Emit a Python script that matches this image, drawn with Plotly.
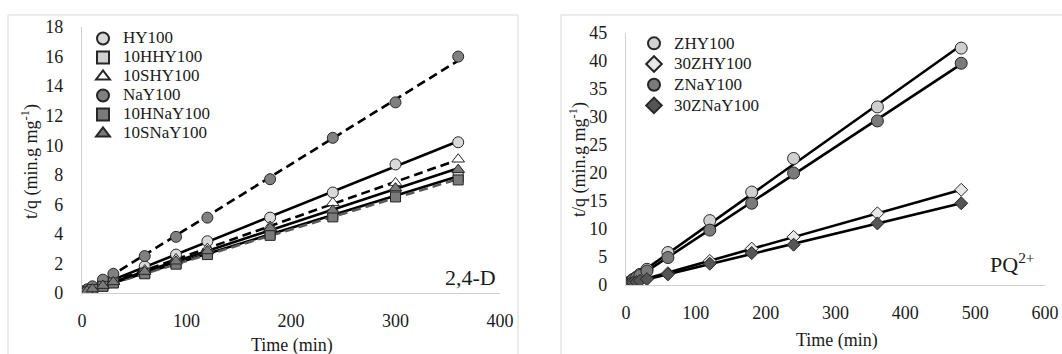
import numpy as np
import plotly.graph_objects as go

# ---- 2,4-D adsorption, pseudo-second-order plot (t/q vs t) ----
time_24d = [2, 5, 10, 20, 30, 60, 90, 120, 180, 240, 300, 360]
hy100 = [0.08, 0.17, 0.32, 0.62, 0.95, 1.8, 2.6, 3.5, 5.1, 6.8, 8.7, 10.2]
h10_hy100 = [0.06, 0.13, 0.25, 0.47, 0.70, 1.35, 2.0, 2.65, 4.0, 5.3, 6.6, 7.85]
s10_hy100 = [0.07, 0.15, 0.28, 0.55, 0.80, 1.55, 2.3, 3.0, 4.5, 6.1, 7.45, 9.05]
nay100 = [0.10, 0.25, 0.45, 0.9, 1.3, 2.5, 3.8, 5.1, 7.7, 10.5, 12.9, 16.0]
h10_nay100 = [0.06, 0.12, 0.24, 0.45, 0.68, 1.3, 1.95, 2.6, 3.9, 5.15, 6.5, 7.65]
s10_nay100 = [0.07, 0.14, 0.27, 0.50, 0.75, 1.45, 2.15, 2.85, 4.4, 5.6, 7.1, 8.35]

# ---- PQ2+ adsorption ----
time_pq = [2, 5, 10, 15, 20, 30, 60, 120, 180, 240, 360, 480]
zhy100 = [0.25, 0.5, 1.0, 1.4, 1.9, 2.8, 5.8, 11.5, 16.6, 22.6, 31.8, 42.3]
z30_hy100 = [0.1, 0.25, 0.45, 0.65, 0.85, 1.2, 2.1, 4.3, 6.5, 8.6, 12.8, 17.0]
znay100 = [0.2, 0.45, 0.9, 1.3, 1.7, 2.5, 4.9, 9.8, 14.6, 20.0, 29.3, 39.6]
z30_nay100 = [0.1, 0.2, 0.4, 0.55, 0.75, 1.05, 1.9, 3.8, 5.7, 7.2, 11.0, 14.6]

x_ticks_24d = [0, 100, 200, 300, 400]
y_ticks_24d = list(range(0, 19, 2))
x_ticks_pq = [0, 100, 200, 300, 400, 500, 600]
y_ticks_pq = list(range(0, 46, 5))

W, H = 1062, 354
FONT = "Liberation Serif"
INK = "#1a1a1a"
EDGE = "#262626"
AXIS = "#d0d0d0"

left_series = [
    ("HY100", hy100, "circle", "#d9d9d9", 11, "solid", "#000000"),
    ("10HHY100", h10_hy100, "square", "#d0d0d0", 10, "solid", "#000000"),
    ("10SHY100", s10_hy100, "triangle-up", "#ffffff", 11, "9px,5px", "#000000"),
    ("NaY100", nay100, "circle", "#808080", 11, "9px,5px", "#000000"),
    ("10HNaY100", h10_nay100, "square", "#7a7a7a", 10, "9px,5px", "#5a5a5a"),
    ("10SNaY100", s10_nay100, "triangle-up", "#7a7a7a", 11, "solid", "#000000"),
]
right_series = [
    ("ZHY100", zhy100, "circle", "#d0d0d0", 12),
    ("30ZHY100", z30_hy100, "diamond", "#e8e8e8", 10),
    ("ZNaY100", znay100, "circle", "#7a7a7a", 12),
    ("30ZNaY100", z30_nay100, "diamond", "#555555", 10),
]


def entry(label):
    # legend rows are kept compact while the label itself stays full size
    return f'<span style="font-size:17px">{label}</span>'


fig = go.Figure()


def trend(x, y):
    # least-squares straight line over the measured time span
    k, b = np.polyfit(x, y, 1)
    xs = np.array([min(x), max(x)])
    return xs, k * xs + b


for name, ys, sym, fill, size, dash, lc in left_series:
    xs, yl = trend(time_24d, ys)
    fig.add_trace(go.Scatter(x=xs, y=yl, mode="lines", showlegend=False,
                             line=dict(color=lc, width=2.6, dash=dash),
                             xaxis="x", yaxis="y", hoverinfo="skip"))
for name, ys, sym, fill, size, dash, lc in left_series:
    fig.add_trace(go.Scatter(x=time_24d, y=ys, mode="markers", name=entry(name),
                             marker=dict(symbol=sym, size=size, color=fill,
                                         line=dict(color=EDGE, width=1)),
                             xaxis="x", yaxis="y", legend="legend"))

for name, ys, sym, fill, size in right_series:
    xs, yl = trend(time_pq, ys)
    fig.add_trace(go.Scatter(x=xs, y=yl, mode="lines", showlegend=False,
                             line=dict(color="#000000", width=2.6),
                             xaxis="x2", yaxis="y2", hoverinfo="skip"))
for name, ys, sym, fill, size in right_series:
    fig.add_trace(go.Scatter(x=time_pq, y=ys, mode="markers", name=entry(name),
                             marker=dict(symbol=sym, size=size, color=fill,
                                         line=dict(color=EDGE, width=1)),
                             xaxis="x2", yaxis="y2", legend="legend2"))

tick_font = dict(family=FONT, size=18, color=INK)


def px_x(p):
    return p / W


def px_y(p):
    return (H - p) / H


axis_common = dict(showgrid=False, zeroline=False, showline=True, linecolor=AXIS,
                   linewidth=1.3, ticks="", tickfont=tick_font, automargin=False,
                   fixedrange=True)

fig.update_layout(
    width=W, height=H,
    margin=dict(l=0, r=0, t=0, b=0),
    paper_bgcolor="white", plot_bgcolor="white",
    font=dict(family=FONT, color=INK),
    xaxis=dict(domain=[px_x(82), px_x(500)], range=[0, 400], tickvals=x_ticks_24d,
               anchor="y", ticklabelstandoff=11, **axis_common),
    yaxis=dict(domain=[px_y(293), px_y(27)], range=[0, 18], tickvals=y_ticks_24d,
               anchor="x", ticklabelstandoff=14, **axis_common),
    xaxis2=dict(domain=[px_x(626), px_x(1045)], range=[0, 600], tickvals=x_ticks_pq,
                anchor="y2", ticklabelstandoff=11, **axis_common),
    yaxis2=dict(domain=[px_y(285), px_y(33)], range=[0, 45], tickvals=y_ticks_pq,
                anchor="x2", ticklabelstandoff=14, **axis_common),
    legend=dict(x=px_x(83), y=px_y(24), xanchor="left", yanchor="top",
                bgcolor="rgba(0,0,0,0)", font=dict(family=FONT, size=11.8, color=INK),
                itemsizing="constant", tracegroupgap=0),
    legend2=dict(x=px_x(634), y=px_y(28), xanchor="left", yanchor="top",
                 bgcolor="rgba(0,0,0,0)", font=dict(family=FONT, size=13.6, color=INK),
                 itemsizing="constant", tracegroupgap=0),
    showlegend=True,
)

# chart-area frames
fig.add_shape(type="rect", xref="paper", yref="paper",
              x0=px_x(8), x1=px_x(518), y0=px_y(360), y1=px_y(15),
              line=dict(color="#d9d9d9", width=1), fillcolor="rgba(0,0,0,0)", layer="below")
fig.add_shape(type="rect", xref="paper", yref="paper",
              x0=px_x(561), x1=px_x(1070), y0=px_y(360), y1=px_y(15),
              line=dict(color="#d9d9d9", width=1), fillcolor="rgba(0,0,0,0)", layer="below")

ytitle = "t/q (min.g mg<sup>-1</sup>)"
annotations = [
    dict(text=ytitle, x=px_x(30), y=px_y(162), textangle=-90),
    dict(text=ytitle, x=px_x(578), y=px_y(160), textangle=-90),
    dict(text="Time (min)", x=px_x(292), y=px_y(345)),
    dict(text="Time (min)", x=px_x(837), y=px_y(340)),
    dict(text="2,4-D", x=px_x(470), y=px_y(277), font=dict(family=FONT, size=22, color=INK)),
    dict(text="PQ<sup>2+</sup>", x=px_x(1012), y=px_y(263), font=dict(family=FONT, size=22, color=INK)),
]
for a in annotations:
    a.setdefault("font", dict(family=FONT, size=18, color=INK))
    fig.add_annotation(xref="paper", yref="paper", showarrow=False,
                       xanchor="center", yanchor="middle", **a)

fig.write_html("out.html")
